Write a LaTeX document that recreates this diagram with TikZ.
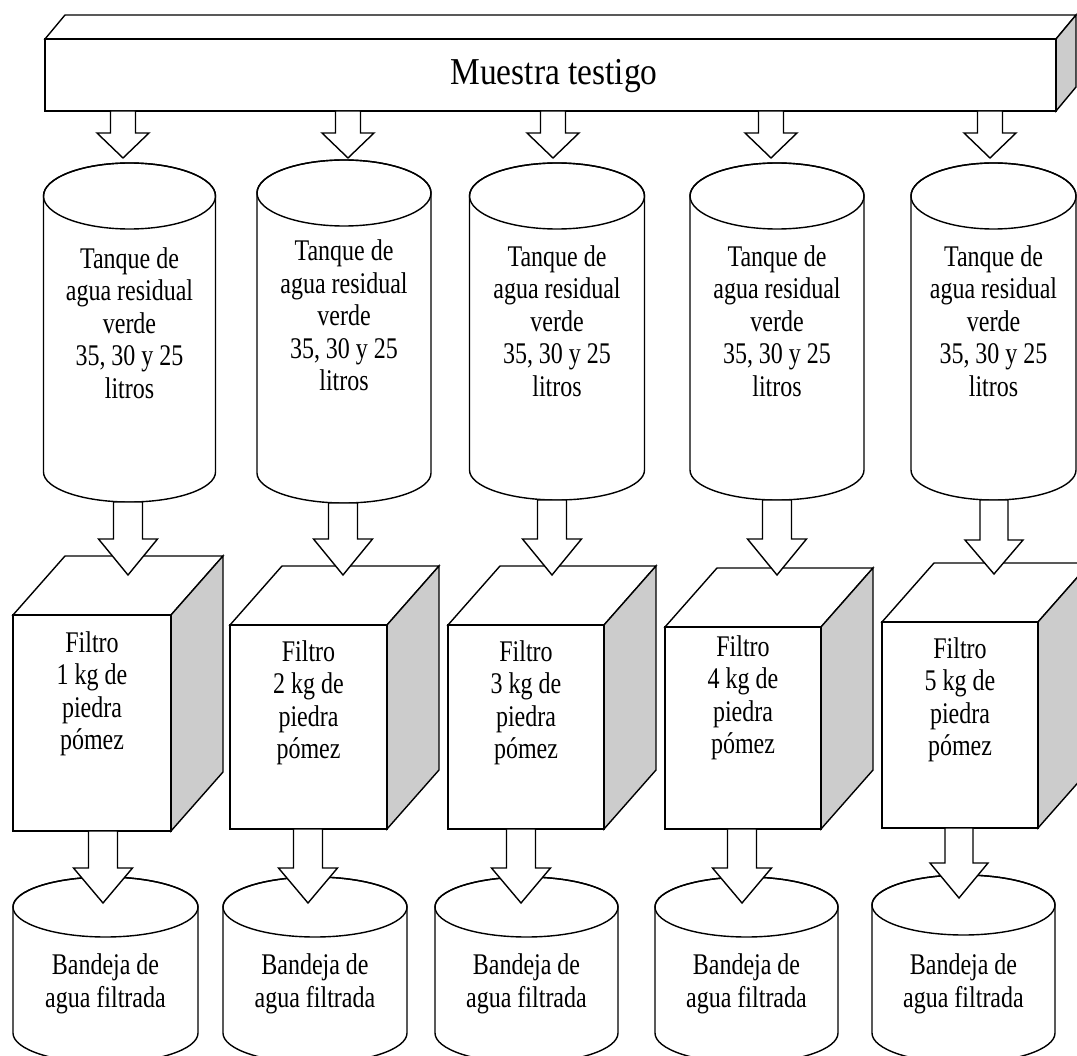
\documentclass[tikz,border=0pt]{standalone}
\usepackage{fontspec}
\setmainfont[FakeStretch=0.8]{Liberation Serif}
\newfontfamily\titlefont[FakeStretch=0.88]{Liberation Serif}
\definecolor{sidegray}{HTML}{CCCCCC}
\tikzset{
  shapeline/.style={draw=black, line width=1.4pt, line join=miter},
  txt/.style={font=\fontsize{30}{32.5}\selectfont, align=center, inner sep=0pt},
  title/.style={font=\titlefont\fontsize{38}{40}\selectfont, inner sep=0pt}
}
% cx, ytop, ybot, rx, ry top, ry bottom
\newcommand{\tankshape}[6]{%
  \filldraw[shapeline, fill=white] (#1-#4,#2+#5) -- (#1-#4,#3-#6)
    arc[start angle=180,end angle=0,x radius=#4,y radius=#6]
    -- (#1+#4,#2+#5) arc[start angle=0,end angle=-180,x radius=#4,y radius=#5] -- cycle;
  \draw[shapeline] (#1,#2+#5) ellipse[x radius=#4,y radius=#5];
}
% x1, y1 (front top), x2, y2 (front bottom)
\newcommand{\cubeshape}[4]{%
  \filldraw[shapeline, fill=white] (#1,#2) -- (#1+52,#2-59) -- (#3+52,#2-59) -- (#3,#2) -- cycle;
  \filldraw[shapeline, fill=sidegray] (#3,#2) -- (#3+52,#2-59) -- (#3+52,#4-59) -- (#3,#4) -- cycle;
  \filldraw[shapeline, fill=white] (#1,#2) rectangle (#3,#4);
}
% x, ytop, ytip, shaft half, head half, head length
\newcommand{\blockarrow}[6]{%
  \filldraw[shapeline, fill=white] (#1-#4,#2) -- (#1-#4,#3-#6) -- (#1-#5,#3-#6) -- (#1,#3)
    -- (#1+#5,#3-#6) -- (#1+#4,#3-#6) -- (#1+#4,#2) -- cycle;
}
\begin{document}
\begin{tikzpicture}[x=1pt,y=-1pt]
\clip (0,0) rectangle (1077,1056);
\fill[white] (0,0) rectangle (1077,1056);

% top bar
\filldraw[shapeline, fill=white] (45,39) -- (65,15) -- (1076,15) -- (1056,39) -- cycle;
\filldraw[shapeline, fill=sidegray] (1056,39) -- (1076,15) -- (1076,87) -- (1056,111) -- cycle;
\filldraw[shapeline, fill=white] (45,39) rectangle (1056,111);
\node[title] (bar) at (554,76) {Muestra testigo};

% tanks
\tankshape{129.5}{163}{502}{86}{33}{30}
\tankshape{344}{160}{503}{87}{33}{30}
\tankshape{557}{163}{500}{87.5}{33}{30}
\tankshape{777}{163}{500}{87}{33}{30}
\tankshape{993.5}{163}{500}{82.5}{33}{30}
\foreach \i/\x/\y in {1/129.5/323, 2/344/315.5, 3/557/321, 4/777/321, 5/993.5/321}{
  \node[txt] (tank\i) at (\x,\y) {Tanque de\\agua residual\\verde\\35, 30 y 25\\litros};
}

% top arrows
\foreach \x in {123,348,553,771,990}{
  \blockarrow{\x}{111}{158}{12.5}{26}{25}
}

% cubes
\cubeshape{13}{615}{171}{831}
\cubeshape{230}{625}{387}{829}
\cubeshape{448}{625}{604}{829}
\cubeshape{665}{627}{821}{829}
\cubeshape{882}{622}{1038}{828}
\node[txt] (filt1) at (92,694) {Filtro\\1 kg de\\piedra\\pómez};
\node[txt] (filt2) at (308.5,703) {Filtro\\2 kg de\\piedra\\pómez};
\node[txt] (filt3) at (526,703) {Filtro\\3 kg de\\piedra\\pómez};
\node[txt] (filt4) at (743,698) {Filtro\\4 kg de\\piedra\\pómez};
\node[txt] (filt5) at (960,700) {Filtro\\5 kg de\\piedra\\pómez};

% middle arrows
\blockarrow{128}{502}{575}{14.5}{29.5}{36}
\blockarrow{343}{503}{575}{14.5}{29.5}{36}
\blockarrow{552}{500}{575}{14.5}{29.5}{36}
\blockarrow{777}{500}{575}{14.5}{29.5}{36}
\blockarrow{994}{500}{574}{14}{29}{34}

% trays
\tankshape{105.5}{877}{1063}{92.5}{30}{30}
\tankshape{315}{877}{1063}{92}{30}{30}
\tankshape{526.5}{877}{1063}{91.5}{30}{30}
\tankshape{746.5}{877}{1063}{91.5}{30}{30}
\tankshape{963.5}{875}{1063}{91.5}{30}{30}
\foreach \i/\x in {1/105.5, 2/315, 3/526.5, 4/746.5, 5/963.5}{
  \node[txt] (tray\i) at (\x,984) {Bandeja de\\agua filtrada};
}

% bottom arrows
\blockarrow{103}{831}{903}{14.5}{29.5}{35}
\blockarrow{308}{829}{903}{14.5}{29.5}{35}
\blockarrow{521}{829}{903}{14.5}{29.5}{35}
\blockarrow{742}{829}{903}{14.5}{29.5}{35}
\blockarrow{959}{828}{898}{14}{29}{35}
\end{tikzpicture}
\end{document}
